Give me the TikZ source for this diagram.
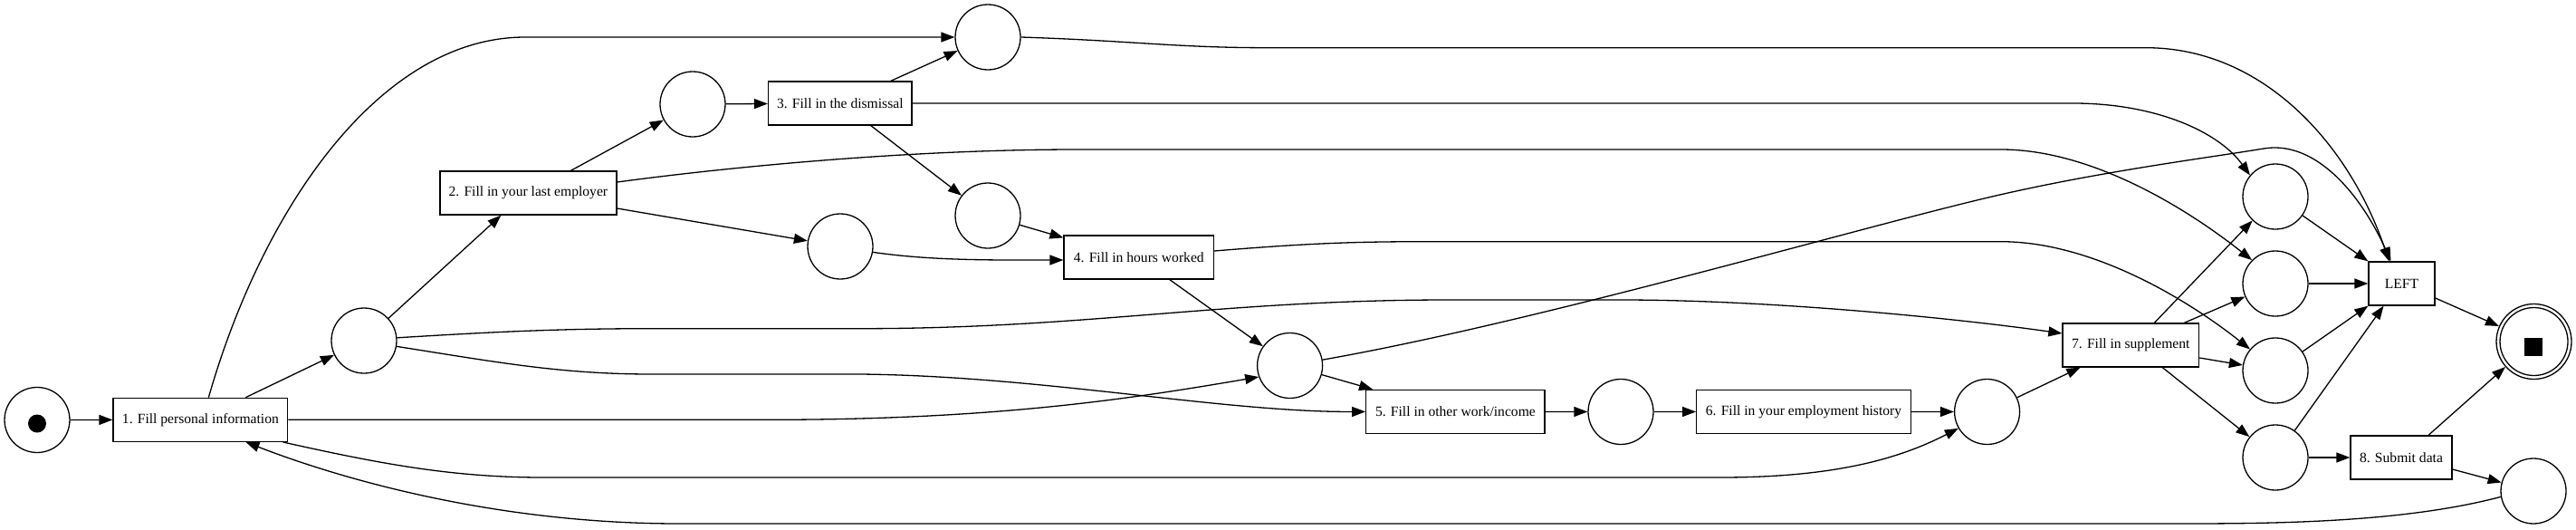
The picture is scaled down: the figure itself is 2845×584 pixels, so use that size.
\documentclass[tikz,border=0pt]{standalone}
\usepackage{fontspec}
\setmainfont{Liberation Serif}
\usetikzlibrary{arrows.meta}
\begin{document}
\begin{tikzpicture}[x=1pt,y=-1pt,line width=1.3pt,
  place/.style={draw, circle, minimum size=72pt, inner sep=0pt},
  trans/.style={draw, rectangle, minimum height=48pt, inner sep=0pt, font=\fontsize{15.6}{18}\selectfont},
  arr/.style={-{Triangle[length=15pt,width=11pt]}},
]
\useasboundingbox (0,0) rectangle (2845,584);
% nodes
\node[place] (S) at (41,463.5) {};
\node[circle, fill, minimum size=20pt, inner sep=0pt] (tok) at (41,467.5) {};
\node[trans, minimum width=192.7pt] (T1) at (221.4,463.3) {1. Fill personal information};
\node[place] (P1) at (402,376) {};
\node[trans, minimum width=195pt] (T2) at (583.4,213) {2. Fill in your last employer};
\node[place] (P2) at (765,115) {};
\node[trans, minimum width=158.5pt] (T3) at (927.8,114) {3. Fill in the dismissal};
\node[place] (PT) at (1091,41) {};
\node[place] (P3) at (1091,238) {};
\node[place] (P4) at (928,272) {};
\node[trans, minimum width=165.5pt] (T4) at (1257.8,284) {4. Fill in hours worked};
\node[place] (P5) at (1424.6,403.5) {};
\node[trans, minimum width=197.3pt] (T5) at (1607.4,454.4) {5. Fill in other work/income};
\node[place] (P6) at (1790,454.5) {};
\node[trans, minimum width=236.6pt] (T6) at (1992,454.4) {6. Fill in your employment history};
\node[place] (P7) at (2194.6,454.5) {};
\node[trans, minimum width=150.6pt] (T7) at (2353.3,381) {7. Fill in supplement};
\node[place] (P8) at (2513,217) {};
\node[place] (P9) at (2513,313) {};
\node[place] (P10) at (2513,409) {};
\node[place] (P11) at (2513,505) {};
\node[trans, minimum width=73pt] (TL) at (2652.5,313) {LEFT};
\node[trans, minimum width=112pt] (T8) at (2652,505) {8. Submit data};
\node[place] (P12) at (2798,542) {};
\node[draw, circle, minimum size=83pt, inner sep=0pt] (E) at (2798.5,377) {};
\node[draw, circle, minimum size=75pt, inner sep=0pt] (Ein) at (2798.5,377) {};
\node[fill, minimum size=19.5pt, inner sep=0pt] (sq) at (2798,383) {};
% edges
\draw[arr] (S) -- (T1);
\draw[arr] ([xshift=50pt]T1.north) -- (P1);
\draw[arr] ([xshift=9pt]T1.north) .. controls (290,230) and (420,41) .. (580,41) -- (PT);
\draw[arr] (T1.east) -- (850,463.3) .. controls (1100,463.3) and (1250,440) .. (P5.200);
\draw[arr] ([xshift=-6pt]T1.south east) .. controls (420,512) and (500,527) .. (600,527) -- (1900,527) .. controls (2030,527) and (2100,505) .. (P7.210);
\draw[arr] (P12.190) .. controls (2650,578) and (2500,578) .. (2400,578) -- (750,578) .. controls (550,578) and (380,530) .. ([xshift=50pt]T1.south);
\draw[arr] (P1) -- ([xshift=-30pt]T2.south);
\draw[arr] (P1.5) .. controls (550,366) and (620,362.7) .. (720,362.7) -- (950,362.7) .. controls (1200,362.7) and (1350,331) .. (1600,331) -- (1790,331) .. controls (1950,331) and (2150,350) .. ([yshift=13pt]T7.west);
\draw[arr] (P1.-10) .. controls (550,400) and (620,413) .. (720,413) -- (950,413) .. controls (1150,415) and (1350,455) .. (T5.west);
\draw[arr] ([xshift=47pt]T2.north) -- (P2);
\draw[arr] ([yshift=-17pt]T2.east) -- (P4);
\draw[arr] ([yshift=12pt]T2.east) .. controls (800,185) and (1000,165) .. (1190,165) -- (2210,165) .. controls (2310,165) and (2415,230) .. (P9.135);
\draw[arr] (P2) -- (T3);
\draw[arr] ([xshift=56pt]T3.north) -- (PT);
\draw[arr] ([xshift=34pt]T3.south) -- (P3);
\draw[arr] (T3.east) -- (2290,114) .. controls (2380,114) and (2450,145) .. (P8.140);
\draw[arr] (PT.east) .. controls (1250,45) and (1300,52.7) .. (1400,52.7) -- (2370,52.7) .. controls (2500,52.7) and (2595,160) .. ([xshift=-14pt]TL.north);
\draw[arr] (P3) -- ([yshift=-3pt]T4.north west);
\draw[arr] (P4.-10) .. controls (1030,288) and (1100,287) .. ([yshift=-3pt]T4.west);
\draw[arr] ([xshift=34pt]T4.south) -- (P5);
\draw[arr] ([yshift=7pt]T4.east) .. controls (1450,268) and (1500,266.7) .. (1580,266.7) -- (2210,266.7) .. controls (2310,266.7) and (2415,330) .. (P10.140);
\draw[arr] (P5) -- ([xshift=8pt]T5.north west);
\draw[arr] (P5.10) .. controls (1700,355) and (2050,252) .. (2200,217) .. controls (2320,189) and (2440,174) .. (2500,164) .. controls (2560,154) and (2610,220) .. ([xshift=-12pt]TL.north);
\draw[arr] (T5) -- (P6);
\draw[arr] (P6) -- (T6);
\draw[arr] (T6) -- (P7);
\draw[arr] (P7) -- ([xshift=20pt]T7.south west);
\draw[arr] ([xshift=26pt]T7.north) -- (P8);
\draw[arr] ([xshift=59pt]T7.north) -- (P9);
\draw[arr] ([yshift=-14pt]T7.east) -- (P10);
\draw[arr] ([xshift=35pt]T7.south) -- (P11);
\draw[arr] (P8) -- (TL.north west);
\draw[arr] (P9) -- (TL);
\draw[arr] (P10) -- (TL.south west);
\draw[arr] (P11) -- ([xshift=-20pt]TL.south);
\draw[arr] (P11) -- (T8);
\draw[arr] ([yshift=-16pt]TL.east) -- (E);
\draw[arr] ([xshift=30pt]T8.north) -- (E);
\draw[arr] ([yshift=-13pt]T8.east) -- (P12);
\end{tikzpicture}
\end{document}
